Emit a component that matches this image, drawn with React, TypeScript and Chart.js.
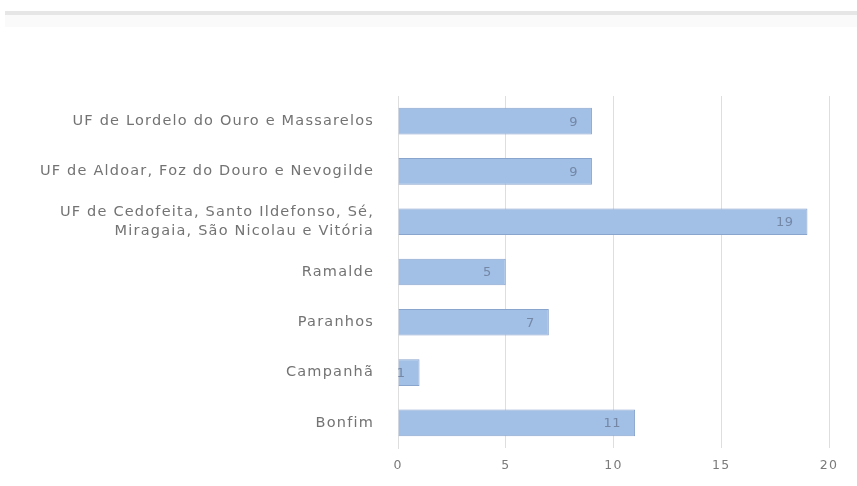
import React, { useEffect, useRef } from "react";
import { Chart, registerables } from "chart.js";

Chart.register(...registerables);

const categories: (string | string[])[] = [
  "UF de Lordelo do Ouro e Massarelos",
  "UF de Aldoar, Foz do Douro e Nevogilde",
  ["UF de Cedofeita, Santo Ildefonso, Sé,", "Miragaia, São Nicolau e Vitória"],
  "Ramalde",
  "Paranhos",
  "Campanhã",
  "Bonfim",
];
const values = [9, 9, 19, 5, 7, 1, 11];
const xTicks = [0, 5, 10, 15, 20];

const FONT = "'DejaVu Sans', Verdana, sans-serif";

const spacing = {
  id: "spacing",
  beforeDraw(chart: any) {
    chart.ctx.letterSpacing = "1.2px";
  },
};

const valueLabels = {
  id: "valueLabels",
  afterDatasetsDraw(chart: any) {
    const ctx = chart.ctx;
    const meta = chart.getDatasetMeta(0);
    ctx.save();
    ctx.letterSpacing = "0.5px";
    ctx.font = `13px ${FONT}`;
    ctx.fillStyle = "#7488a6";
    ctx.textAlign = "right";
    ctx.textBaseline = "middle";
    meta.data.forEach((bar: any, i: number) => {
      ctx.fillText(String(values[i]), bar.x - 14, bar.y + 1);
    });
    ctx.restore();
  },
};

export default function App() {
  const ref = useRef<HTMLCanvasElement>(null);
  useEffect(() => {
    const chart = new Chart(ref.current!, {
      type: "bar",
      data: {
        labels: categories as any,
        datasets: [
          {
            data: values,
            backgroundColor: "#a2bfe6",
            borderColor: "#8aa5cd",
            borderWidth: 1,
            barPercentage: 0.53,
            categoryPercentage: 1,
          },
        ],
      },
      options: {
        indexAxis: "y",
        animation: false,
        responsive: false,
        layout: { padding: { top: 96, right: 28, left: 0, bottom: 0 } },
        plugins: { legend: { display: false }, tooltip: { enabled: false } },
        scales: {
          x: {
            min: 0,
            max: 20,
            afterBuildTicks: (s: any) => {
              s.ticks = xTicks.map((v) => ({ value: v }));
            },
            afterFit: (s: any) => {
              s.height = 38;
            },
            grid: { color: "#dedede", drawTicks: false },
            border: { display: false },
            ticks: { color: "#7a7a7a", font: { family: FONT, size: 12.5 }, padding: 10 },
          },
          y: {
            afterFit: (s: any) => {
              s.width = 398;
            },
            grid: { display: false, drawTicks: false },
            border: { display: true, color: "#dedede" },
            ticks: {
              color: "#737373",
              font: { family: FONT, size: 14.5, lineHeight: 1.25 },
              padding: 24,
            },
          },
        },
      },
      plugins: [spacing, valueLabels],
    });
    return () => chart.destroy();
  }, []);
  return (
    <div style={{ position: "absolute", left: 0, top: 0, width: 857, height: 486, background: "#fff" }}>
      <div style={{ position: "absolute", left: 5, right: 0, top: 11, height: 4, background: "#e6e6e6" }} />
      <div style={{ position: "absolute", left: 5, right: 0, top: 15, height: 12, background: "#fafafa" }} />
      <canvas ref={ref} width={857} height={486} style={{ position: "absolute", left: 0, top: 0 }} />
    </div>
  );
}
